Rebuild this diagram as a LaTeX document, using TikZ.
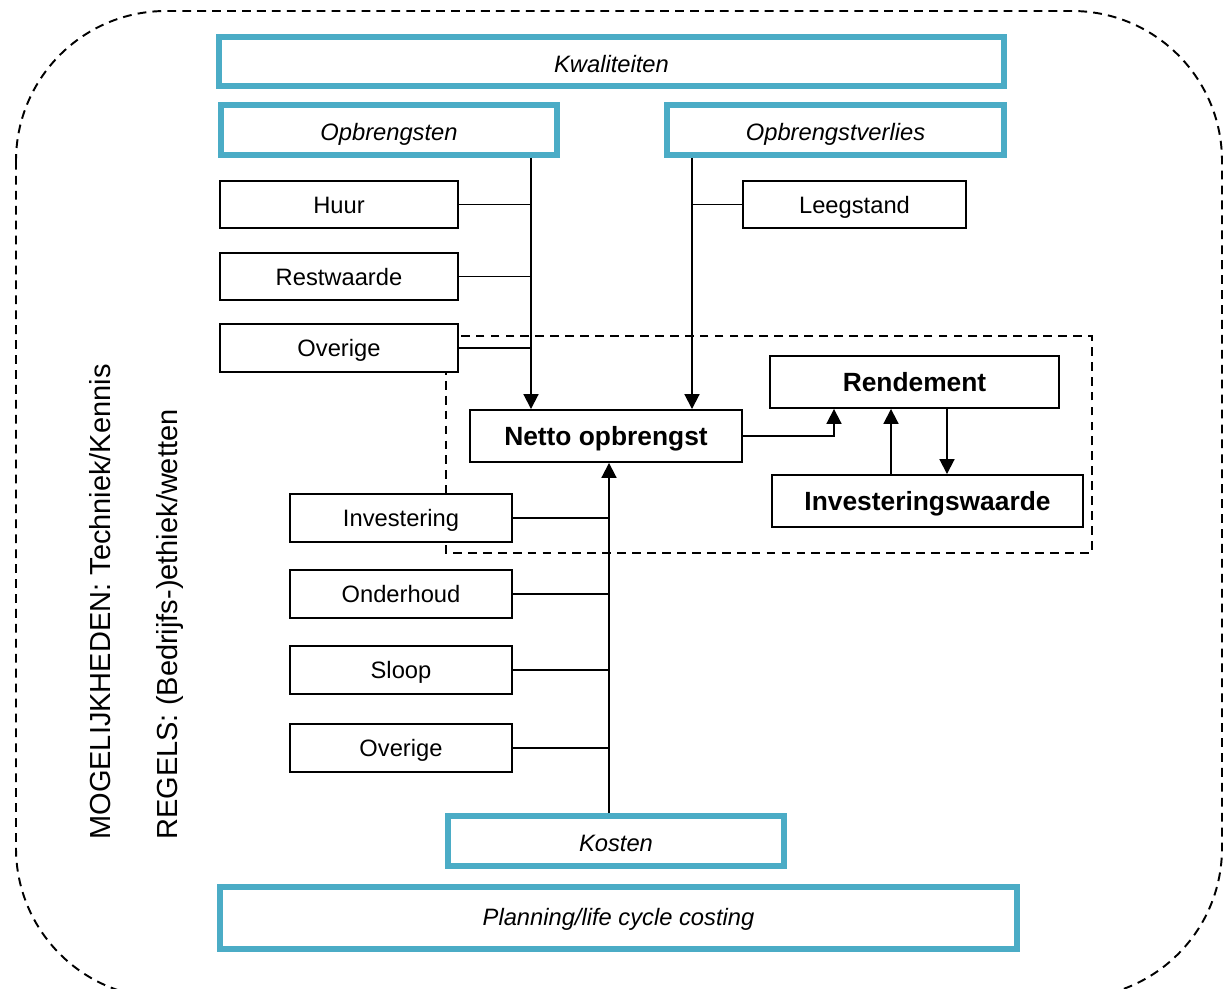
\documentclass[tikz,border=0pt]{standalone}
\usepackage{fontspec}
\setmainfont{Liberation Sans}
\usepackage{tikz}
\usetikzlibrary{arrows.meta}
\definecolor{kaderblauw}{HTML}{4BACC6}

\begin{document}
\begin{tikzpicture}[x=0.02cm,y=-0.02cm,
  kader/.style={draw=kaderblauw,line width=3.4pt,fill=white,font=\fontsize{13.5}{16}\selectfont\itshape,inner sep=0pt,text height=12pt,text depth=0pt},
  vak/.style={draw,line width=1.1pt,fill=white,font=\fontsize{13.5}{16}\selectfont,inner sep=0pt,text height=10pt,text depth=0pt,minimum width=4.76cm,minimum height=0.95cm},
  hoofdvak/.style={draw,line width=1.1pt,fill=white,font=\fontsize{15}{18}\selectfont\bfseries,inner sep=0pt,text height=10.8pt,text depth=0pt,minimum height=1.04cm},
  lijn/.style={line width=1.1pt},
  pijl/.style={line width=1.1pt,-{Triangle[length=8.5pt,width=8.5pt]}},
  streep/.style={line width=1.1pt,dash pattern=on 5pt off 3.5pt},
  zijtekst/.style={rotate=90,anchor=base west,inner sep=0pt,font=\fontsize{16.5}{19}\selectfont}]
 \useasboundingbox (0,0) rectangle (1225,989);
 % buitenrand
 \draw[streep,rounded corners=3cm] (16,11) rectangle (1222,998);
 \node[zijtekst] (moge) at (110,840) {MOGELIJKHEDEN: Techniek/Kennis};
 \node[zijtekst] (regels) at (177,840) {REGELS: (Bedrijfs-)ethiek/wetten};
 % gestreept kader om netto opbrengst
 \draw[streep] (446,336) rectangle (1092,553);

 \node[kader,minimum width=15.7cm,minimum height=0.98cm] (kwal) at (611.5,61.5) {Kwaliteiten};
 \node[kader,minimum width=6.72cm,minimum height=1cm] (opbr) at (389,130) {Opbrengsten};
 \node[kader,minimum width=6.74cm,minimum height=1cm] (verl) at (835.5,130) {Opbrengstverlies};

 \node[vak] (huur) at (339,204.5) {Huur};
 \node[vak] (rest) at (339,276.5) {Restwaarde};
 \node[vak] (over1) at (339,348) {Overige};
 \node[vak,minimum width=4.46cm] (leeg) at (854.5,204.5) {Leegstand};

 \node[hoofdvak,minimum width=5.44cm] (netto) at (606,436) {Netto opbrengst};
 \node[hoofdvak,minimum width=5.78cm] (rend) at (914.5,382) {Rendement};
 \node[hoofdvak,minimum width=6.22cm] (waarde) at (927.5,501) {Investeringswaarde};

 \node[vak,minimum width=4.44cm] (inv) at (401,518) {Investering};
 \node[vak,minimum width=4.44cm] (onder) at (401,594) {Onderhoud};
 \node[vak,minimum width=4.44cm] (sloop) at (401,670) {Sloop};
 \node[vak,minimum width=4.44cm] (over2) at (401,748) {Overige};

 \node[kader,minimum width=6.72cm,minimum height=1cm] (kost) at (616,841) {Kosten};
 \node[kader,text height=9pt,minimum width=15.94cm,minimum height=1.24cm] (plan) at (618.5,918) {Planning/life cycle costing};

 \coordinate (lijnO) at (531,0);
 \coordinate (lijnV) at (692,0);
 \coordinate (lijnK) at (609,0);
 \coordinate (lijnR) at (834,0);

 %%% opbrengsten
 \draw[pijl] (lijnO |- opbr.south) -- (lijnO |- netto.north);
 \draw[lijn] (huur.east) -- (huur.east -| lijnO);
 \draw[lijn] (rest.east) -- (rest.east -| lijnO);
 \draw[lijn] (over1.east) -- (over1.east -| lijnO);
 \draw[pijl] (lijnV |- verl.south) -- (lijnV |- netto.north);
 \draw[lijn] (leeg.west) -- (leeg.west -| lijnV);
 %%% kosten
 \draw[pijl] (lijnK |- kost.north) -- (lijnK |- netto.south);
 \draw[lijn] (inv.east) -- (inv.east -| lijnK);
 \draw[lijn] (onder.east) -- (onder.east -| lijnK);
 \draw[lijn] (sloop.east) -- (sloop.east -| lijnK);
 \draw[lijn] (over2.east) -- (over2.east -| lijnK);
 %%% rendement
 \draw[pijl] (netto.east) -| (lijnR |- rend.south);
 \draw[pijl] ([xshift=-0.73cm]waarde.north) -- ([xshift=-0.73cm]waarde.north |- rend.south);
 \draw[pijl] ([xshift=0.39cm]waarde.north |- rend.south) -- ([xshift=0.39cm]waarde.north);
\end{tikzpicture}
\end{document}
